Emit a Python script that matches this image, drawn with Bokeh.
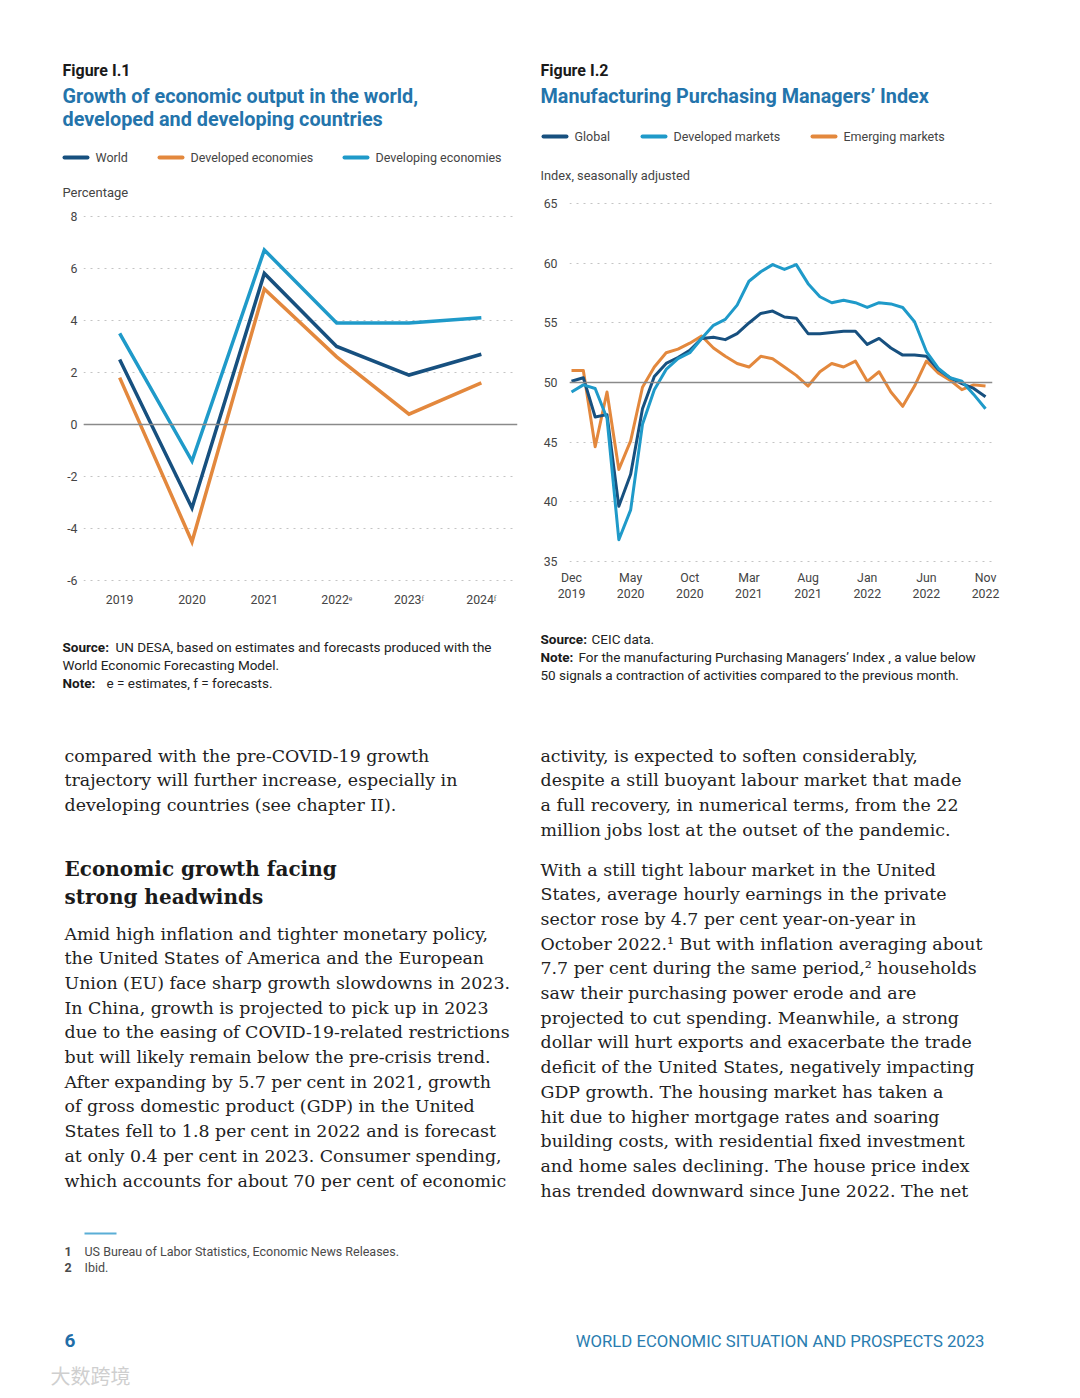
from bokeh.plotting import figure
from bokeh.models import Range1d, FactorRange, FixedTicker, Span, Spacer
from bokeh.layouts import column, row
from bokeh.core.properties import value
from bokeh.embed import file_html
from bokeh.resources import INLINE

# ---------------- data: Figure I.1 ----------------
years = ["2019", "2020", "2021", "2022ᵉ", "2023ᶠ", "2024ᶠ"]
world = [2.5, -3.2, 5.8, 3.0, 1.9, 2.7]
developed = [1.8, -4.5, 5.2, 2.6, 0.4, 1.6]
developing = [3.5, -1.4, 6.7, 3.9, 3.9, 4.1]
growth_ticks = [-6, -4, -2, 0, 2, 4, 6, 8]
growth_tick_labels = ["-6", "-4", "-2", "0", "2", "4", "6", "8"]

# ---------------- data: Figure I.2 (Dec 2019 - Nov 2022, monthly) ----------------
pmi_global = [50.1, 50.4, 47.1, 47.3, 39.6, 42.3, 47.8, 50.5, 51.6, 52.1, 52.7, 53.7,
              53.8, 53.6, 54.1, 55.0, 55.8, 56.0, 55.5, 55.4, 54.1, 54.1, 54.2, 54.3,
              54.3, 53.2, 53.7, 52.9, 52.3, 52.3, 52.2, 51.1, 50.4, 49.9, 49.5, 48.8]
pmi_developed = [49.2, 49.8, 49.5, 47.0, 36.8, 39.3, 46.5, 49.4, 51.1, 52.0, 52.5, 53.7,
                 54.8, 55.3, 56.5, 58.5, 59.3, 59.9, 59.5, 59.9, 58.3, 57.2, 56.7, 56.9,
                 56.7, 56.3, 56.7, 56.6, 56.3, 55.1, 52.6, 51.2, 50.4, 50.1, 49.0, 47.8]
pmi_emerging = [51.0, 51.0, 44.6, 49.2, 42.7, 45.1, 49.6, 51.3, 52.5, 52.8, 53.3, 53.9,
                52.9, 52.2, 51.6, 51.3, 52.2, 52.0, 51.3, 50.6, 49.7, 50.9, 51.6, 51.3,
                51.8, 50.1, 50.9, 49.2, 48.0, 49.7, 51.8, 50.8, 50.2, 49.4, 49.8, 49.7]
month_index = list(range(len(pmi_global)))
pmi_tick_pos = [0, 5, 10, 15, 20, 25, 30, 35]
pmi_tick_labels = ["Dec\n2019", "May\n2020", "Oct\n2020", "Mar\n2021",
                   "Aug\n2021", "Jan\n2022", "Jun\n2022", "Nov\n2022"]
pmi_y_ticks = [35, 40, 45, 50, 55, 60, 65]

# ---------------- styles ----------------
NAVY = "#17507f"
ORANGE = "#e3883d"
LBLUE = "#1f9ac9"
TITLE_BLUE = "#2474ab"
TXT = "#444444"
SANS = "Roboto"
SERIF = "DejaVu Serif"


def no_align(f):
    try:
        f.frame_align = False
    except Exception:
        pass
    return f


def text_fig(w, h):
    f = figure(width=w, height=h, x_range=Range1d(0, w), y_range=Range1d(h, 0),
               output_backend="svg", toolbar_location=None, title=None,
               x_axis_location=None, y_axis_location=None, min_border=0,
               tools="")
    f.grid.visible = False
    f.outline_line_color = None
    return no_align(f)


def put(f, x, y, txt, size, color=TXT, font=SANS, style="normal", align="left"):
    f.text(x=[x], y=[y], text=[txt], text_font=value(font), text_font_size=size,
           text_font_style=style, text_color=color, text_baseline="middle",
           text_align=align)


def swatch(f, x0, y, color):
    f.segment(x0=[x0], y0=[y], x1=[x0 + 23], y1=[y], line_color=color,
              line_width=4, line_cap="round")


def style_chart(p, left_standoff, bottom_standoff):
    p.outline_line_color = None
    p.xgrid.visible = False
    p.ygrid.grid_line_color = "#c4c4c4"
    p.ygrid.grid_line_dash = "2 5"
    p.ygrid.grid_line_width = 1
    p.axis.axis_line_color = None
    p.axis.major_tick_line_color = None
    p.axis.minor_tick_line_color = None
    p.axis.major_tick_out = 0
    p.axis.major_tick_in = 0
    p.axis.major_label_text_font = SANS
    p.axis.major_label_text_font_size = "12.3px"
    p.axis.major_label_text_color = TXT
    p.yaxis.major_label_standoff = left_standoff
    p.xaxis.major_label_standoff = bottom_standoff
    no_align(p)


SRC = "13.5px"

# ================= Figure I.1 =================
h1 = text_fig(532, 192)
put(h1, 54, 62, "Figure I.1", "16px", "#1a1a1a", style="bold")
put(h1, 54, 88, "Growth of economic output in the world,", "19.8px", TITLE_BLUE, style="bold")
put(h1, 54, 111, "developed and developing countries", "19.8px", TITLE_BLUE, style="bold")
for x0, col, lab in [(56, NAVY, "World"), (151, ORANGE, "Developed economies"),
                     (336, LBLUE, "Developing economies")]:
    swatch(h1, x0, 149, col)
    put(h1, x0 + 31, 149, lab, "12.5px")
put(h1, 54, 184, "Percentage", "13px")

p1 = figure(width=532, height=420, x_range=FactorRange(*years), y_range=Range1d(-6.1, 8.1),
            output_backend="svg", toolbar_location=None, title=None, tools="",
            min_border_left=75, min_border_right=23, min_border_top=13, min_border_bottom=37)
style_chart(p1, 6, 9)
p1.yaxis.ticker = FixedTicker(ticks=growth_ticks)
p1.yaxis.major_label_overrides = dict(zip(growth_ticks, growth_tick_labels))
p1.add_layout(Span(location=0, dimension="width", line_color="#8a8a8a", line_width=1.5))
for series, col in [(developing, LBLUE), (developed, ORANGE), (world, NAVY)]:
    p1.line(x=years, y=series, line_color=col, line_width=3.5, line_join="miter")

s1 = text_fig(532, 80)
put(s1, 54, 26, "Source:", SRC, "#1a1a1a", style="bold")
put(s1, 107, 26, "UN DESA, based on estimates and forecasts produced with the", SRC, "#222222")
put(s1, 54, 44, "World Economic Forecasting Model.", SRC, "#222222")
put(s1, 54, 62, "Note:", SRC, "#1a1a1a", style="bold")
put(s1, 98, 62, "e = estimates, f = forecasts.", SRC, "#222222")

# ================= Figure I.2 =================
h2 = text_fig(532, 182)
put(h2, 0, 62, "Figure I.2", "16px", "#1a1a1a", style="bold")
put(h2, 0, 88, "Manufacturing Purchasing Managers’ Index", "19.8px", TITLE_BLUE, style="bold")
for x0, col, lab in [(3, NAVY, "Global"), (102, LBLUE, "Developed markets"),
                     (272, ORANGE, "Emerging markets")]:
    swatch(h2, x0, 128, col)
    put(h2, x0 + 31, 128, lab, "12.5px")
put(h2, 0, 167, "Index, seasonally adjusted", "12.8px")

p2 = figure(width=532, height=430, x_range=Range1d(-0.17, 35.59), y_range=Range1d(34.8, 65.2),
            output_backend="svg", toolbar_location=None, title=None, tools="",
            min_border_left=28, min_border_right=80, min_border_top=11, min_border_bottom=57)
style_chart(p2, 12, 7)
p2.yaxis.ticker = FixedTicker(ticks=pmi_y_ticks)
p2.xaxis.ticker = FixedTicker(ticks=pmi_tick_pos)
p2.xaxis.major_label_overrides = dict(zip(pmi_tick_pos, pmi_tick_labels))
p2.add_layout(Span(location=50, dimension="width", line_color="#8a8a8a", line_width=1.5))
for series, col in [(pmi_emerging, ORANGE), (pmi_global, NAVY), (pmi_developed, LBLUE)]:
    p2.line(x=month_index, y=series, line_color=col, line_width=3, line_join="round")

s2 = text_fig(532, 80)
put(s2, 0, 18, "Source:", SRC, "#1a1a1a", style="bold")
put(s2, 51, 18, "CEIC data.", SRC, "#222222")
put(s2, 0, 36, "Note:", SRC, "#1a1a1a", style="bold")
put(s2, 38, 36, "For the manufacturing Purchasing Managers’ Index , a value below", SRC, "#222222")
put(s2, 0, 54, "50 signals a contraction of activities compared to the previous month.", SRC, "#222222")

# ================= body text =================
body = text_fig(1064, 690)
BODY = "#222222"
left_top = ["compared with the pre-COVID-19 growth",
            "trajectory will further increase, especially in",
            "developing countries (see chapter II)."]
left_main = ["Amid high inflation and tighter monetary policy,",
             "the United States of America and the European",
             "Union (EU) face sharp growth slowdowns in 2023.",
             "In China, growth is projected to pick up in 2023",
             "due to the easing of COVID-19-related restrictions",
             "but will likely remain below the pre-crisis trend.",
             "After expanding by 5.7 per cent in 2021, growth",
             "of gross domestic product (GDP) in the United",
             "States fell to 1.8 per cent in 2022 and is forecast",
             "at only 0.4 per cent in 2023. Consumer spending,",
             "which accounts for about 70 per cent of economic"]
right_top = ["activity, is expected to soften considerably,",
             "despite a still buoyant labour market that made",
             "a full recovery, in numerical terms, from the 22",
             "million jobs lost at the outset of the pandemic."]
right_main = ["With a still tight labour market in the United",
              "States, average hourly earnings in the private",
              "sector rose by 4.7 per cent year-on-year in",
              "October 2022.¹ But with inflation averaging about",
              "7.7 per cent during the same period,² households",
              "saw their purchasing power erode and are",
              "projected to cut spending. Meanwhile, a strong",
              "dollar will hurt exports and exacerbate the trade",
              "deficit of the United States, negatively impacting",
              "GDP growth. The housing market has taken a",
              "hit due to higher mortgage rates and soaring",
              "building costs, with residential fixed investment",
              "and home sales declining. The house price index",
              "has trended downward since June 2022. The net"]
LH = 24.7
BS = "17.4px"
for k, t in enumerate(left_top):
    put(body, 56, 55 + k * LH, t, BS, BODY, font=SERIF)
put(body, 56, 168, "Economic growth facing", "20px", "#1a1a1a", font=SERIF, style="bold")
put(body, 56, 196, "strong headwinds", "20px", "#1a1a1a", font=SERIF, style="bold")
for k, t in enumerate(left_main):
    put(body, 56, 233 + k * LH, t, BS, BODY, font=SERIF)
for k, t in enumerate(right_top):
    put(body, 532, 55 + k * LH, t, BS, BODY, font=SERIF)
for k, t in enumerate(right_main):
    put(body, 532, 169 + k * LH, t, BS, BODY, font=SERIF)

# footnotes
body.segment(x0=[76], y0=[533], x1=[108], y1=[533], line_color="#5aaed6", line_width=2)
put(body, 56, 551, "1", "12.5px", "#4a4a4a", style="bold")
put(body, 76, 551, "US Bureau of Labor Statistics, Economic News Releases.", "12.5px", "#4a4a4a")
put(body, 56, 567, "2", "12.5px", "#4a4a4a", style="bold")
put(body, 76, 567, "Ibid.", "12.5px", "#4a4a4a")

# page footer
put(body, 56, 640, "6", "19px", "#1f6ea8", style="bold")
put(body, 976, 641, "WORLD ECONOMIC SITUATION AND PROSPECTS 2023", "16.7px", "#2a7db0", align="right")
put(body, 42, 675, "大数跨境", "20px", "#cfcfcf", font="Noto Sans CJK SC")

page = row(Spacer(width=8),
           column(Spacer(height=8),
                  row(column(h1, p1, s1), column(h2, p2, s2)),
                  body))

open("out.html", "w").write(file_html(page, INLINE))
